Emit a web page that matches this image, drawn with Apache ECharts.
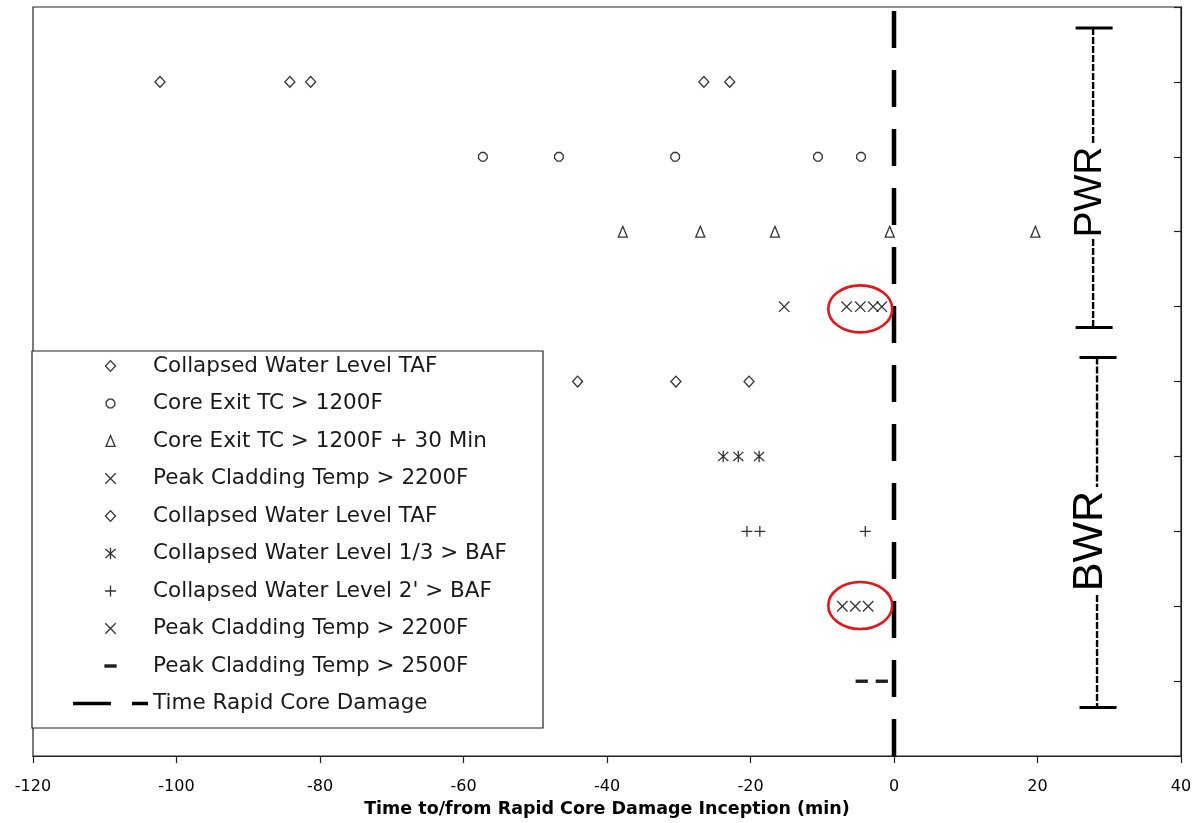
<!DOCTYPE html>
<html>
<head>
<meta charset="utf-8">
<script src="https://cdn.jsdelivr.net/npm/echarts@6/dist/echarts.min.js"></script>
<style>
  html, body { margin: 0; padding: 0; background: #fff; }
  #chart { width: 1201px; height: 823px; }
</style>
</head>
<body>
<div id="chart"></div>
<script>
// Timing of core-damage indicators relative to rapid core damage inception (minutes).
const xTickValues = [-120, -100, -80, -60, -40, -20, 0, 20, 40];

// PWR indicators (rows 1-4)
const pwrWaterLevelTAF   = [-102.3, -84.2, -81.3, -26.5, -22.9];
const pwrCoreExitTC      = [-57.3, -46.7, -30.5, -10.6, -4.6];
const pwrCoreExitTC30    = [-37.8, -27.0, -16.6, -0.6, 19.7];
const pwrPeakClad2200    = [-15.3, -6.6, -4.7, -2.9, -1.7];
// BWR indicators (rows 5-9)
const bwrWaterLevelTAF   = [-44.1, -30.4, -20.2];
const bwrWaterLevelThird = [-23.8, -21.7, -18.8];
const bwrWaterLevel2ft   = [-20.5, -18.7, -4.0];
const bwrPeakClad2200    = [-7.2, -5.4, -3.6];
const bwrPeakClad2500    = [-4.5, -1.7];

const seriesNames = [
  'PWR: Collapsed Water Level TAF',
  'PWR: Core Exit TC > 1200F',
  'PWR: Core Exit TC > 1200F + 30 Min',
  'PWR: Peak Cladding Temp > 2200F',
  'BWR: Collapsed Water Level TAF',
  "BWR: Collapsed Water Level 1/3 > BAF",
  "BWR: Collapsed Water Level 2' > BAF",
  'BWR: Peak Cladding Temp > 2200F',
  'BWR: Peak Cladding Temp > 2500F'
];
const seriesRows = [1, 2, 3, 4, 5, 6, 7, 8, 9];
const seriesValues = [
  pwrWaterLevelTAF, pwrCoreExitTC, pwrCoreExitTC30, pwrPeakClad2200,
  bwrWaterLevelTAF, bwrWaterLevelThird, bwrWaterLevel2ft, bwrPeakClad2200, bwrPeakClad2500
];
const rapidDamageName = 'Time Rapid Core Damage';
const rapidDamageTime = [0, 0];
const rowRange = [0, 10];

// Marker shapes on a 12x12 canvas (leading moves fix the bounding box)
const BOX = 'path://M0,0M12,12';
const SYM = {
  diamond:  BOX + 'M6,0.6L11,6L6,11.4L1,6Z',
  octagon:  BOX + 'M4.3,1.7L7.7,1.7L10.3,4.3L10.3,7.7L7.7,10.3L4.3,10.3L1.7,7.7L1.7,4.3Z',
  triangle: BOX + 'M6,0.6L10.5,11.4L1.5,11.4Z',
  cross:    BOX + 'M0.8,0.8L11.2,11.2M11.2,0.8L0.8,11.2',
  asterisk: BOX + 'M0.9,1.4L11.1,10.6M11.1,1.4L0.9,10.6M6,0.2L6,11.8',
  plus:     BOX + 'M6,0.6L6,11.4M0.6,6L11.4,6',
  dash:     BOX + 'M0.5,4.9L11.5,4.9L11.5,7.1L0.5,7.1Z'
};
const seriesSymbols = [
  SYM.diamond, SYM.octagon, SYM.triangle, SYM.cross,
  SYM.diamond, SYM.asterisk, SYM.plus, SYM.cross, SYM.dash
];
const ink = '#000000';

const chart = echarts.init(document.getElementById('chart'), null, { renderer: 'canvas' });

const scatterSeries = seriesNames.map((name, i) => ({
  name: name,
  type: 'scatter',
  symbol: seriesSymbols[i],
  symbolSize: 12,
  silent: true,
  emphasis: { disabled: true },
  itemStyle: {
    color: seriesSymbols[i] === SYM.dash ? ink : '#ffffff',
    borderColor: ink,
    borderWidth: 1.3
  },
  z: 4,
  data: seriesValues[i].map(v => [v, seriesRows[i]])
}));

const lineIcon = 'path://M0,0M75,12M0,4.3L38,4.3L38,7.7L0,7.7ZM59,4.3L75,4.3L75,7.7L59,7.7Z';

chart.setOption({
  animation: false,
  backgroundColor: '#ffffff',
  grid: {
    left: 33, right: 20, top: 7, bottom: 66,
    show: true, borderColor: '#222', borderWidth: 1.2, backgroundColor: 'transparent'
  },
  xAxis: {
    type: 'value',
    min: xTickValues[0],
    max: xTickValues[xTickValues.length - 1],
    interval: xTickValues[1] - xTickValues[0],
    name: 'Time to/from Rapid Core Damage Inception (min)',
    nameLocation: 'middle',
    nameGap: 41,
    nameTextStyle: { fontFamily: 'DejaVu Sans', fontWeight: 'bold', fontSize: 17.5, color: '#000' },
    axisLine: { show: true, onZero: false, lineStyle: { color: '#222', width: 1.2 } },
    axisTick: { show: true, inside: false, length: 7, lineStyle: { color: '#222', width: 1.2 } },
    axisLabel: { margin: 23, fontFamily: 'DejaVu Sans', fontSize: 16, color: '#000' },
    splitLine: { show: false }
  },
  yAxis: {
    type: 'value',
    position: 'right',
    inverse: true,
    min: rowRange[0],
    max: rowRange[1],
    interval: 1,
    axisLine: { show: true, onZero: false, lineStyle: { color: '#222', width: 1.2 } },
    axisTick: { show: true, inside: true, length: 7, lineStyle: { color: '#222', width: 1.2 } },
    axisLabel: { show: false },
    splitLine: { show: false }
  },
  legend: {
    orient: 'vertical',
    left: 73,
    top: 355,
    padding: 0,
    itemWidth: 75,
    itemHeight: 12,
    itemGap: 15.5,
    selectedMode: false,
    itemStyle: { borderWidth: 1.3, borderType: 'solid' },
    textStyle: { fontFamily: 'DejaVu Sans', fontSize: 21.5, color: '#1a1a1a' },
    formatter: n => n.replace(/^(PWR|BWR): /, ''),
    data: seriesNames.concat([{ name: rapidDamageName, icon: lineIcon }])
  },
  series: scatterSeries.concat([{
    name: rapidDamageName,
    type: 'line',
    symbol: 'none',
    silent: true,
    emphasis: { disabled: true },
    itemStyle: { color: '#000' },
    lineStyle: { color: '#000', width: 4.5, type: [37, 22], dashOffset: 55 },
    z: 3,
    data: rapidDamageTime.map((t, i) => [t, rowRange[i]])
  }])
});

// Annotations anchored in data space: legend frame, highlight rings, reactor brackets
const px = (x, y) => chart.convertToPixel({ gridIndex: 0 }, [x, y]);
const elements = [];

elements.push({
  type: 'rect', z: 3, silent: true,
  shape: { x: 32, y: 351, width: 511, height: 377 },
  style: { fill: '#ffffff', stroke: '#222', lineWidth: 1.2 }
});

[[-4.7, 4.03], [-4.7, 7.99]].forEach(c => {
  const p = px(c[0], c[1]);
  elements.push({
    type: 'ellipse', z: 6, silent: true,
    shape: { cx: p[0], cy: p[1], rx: 32, ry: 23.5 },
    style: { fill: 'none', stroke: '#e3161b', lineWidth: 2.6 }
  });
});

const brackets = [
  { label: 'PWR', x: 27.75, y0: 0.28, y1: 4.28, yText: 2.47, half: 47, size: 39 },
  { label: 'BWR', x: 28.3, y0: 4.68, y1: 9.35, yText: 7.13, half: 54, size: 43 }
];
brackets.forEach(b => {
  const top = px(b.x, b.y0), bot = px(b.x, b.y1), mid = px(b.x, b.yText);
  const lx = top[0];
  const dotted = { stroke: '#000', lineWidth: 2.4, lineDash: [7, 2] };
  elements.push({ type: 'line', z: 6, silent: true,
    shape: { x1: lx - 17.5, y1: top[1], x2: lx + 19.5, y2: top[1] }, style: { stroke: '#000', lineWidth: 3 } });
  elements.push({ type: 'line', z: 6, silent: true,
    shape: { x1: lx - 17.5, y1: bot[1], x2: lx + 19.5, y2: bot[1] }, style: { stroke: '#000', lineWidth: 3 } });
  elements.push({ type: 'line', z: 6, silent: true,
    shape: { x1: lx, y1: top[1], x2: lx, y2: mid[1] - b.half }, style: dotted });
  elements.push({ type: 'line', z: 6, silent: true,
    shape: { x1: lx, y1: mid[1] + b.half, x2: lx, y2: bot[1] }, style: dotted });
  elements.push({
    type: 'text', z: 6, silent: true,
    x: 1090, y: mid[1], rotation: Math.PI / 2,
    style: {
      text: b.label, x: 0, y: 0, align: 'center', verticalAlign: 'middle',
      font: b.size + 'px "Liberation Sans", Arial, sans-serif', fill: '#000'
    }
  });
});

chart.setOption({ graphic: { elements: elements } });
</script>
</body>
</html>
